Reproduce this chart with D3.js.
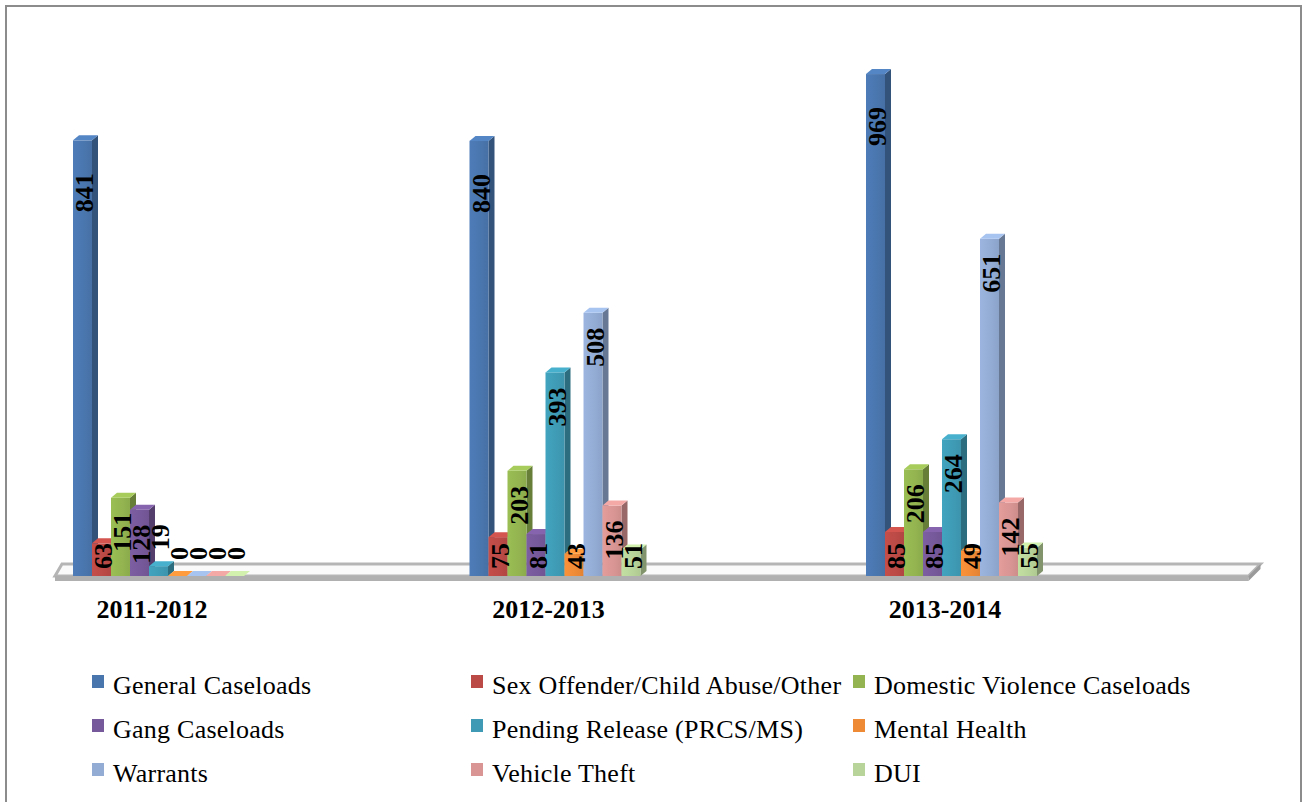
<!DOCTYPE html>
<html>
<head>
<meta charset="utf-8">
<script src="https://cdn.jsdelivr.net/npm/d3@7/dist/d3.min.js"></script>
<style>
  html, body { margin: 0; padding: 0; background: #fff; }
  svg { display: block; font-family: "Liberation Serif", "Times New Roman", serif; }
</style>
</head>
<body>
<svg id="chart" width="1306" height="802"></svg>
<script>
// ── Data ──────────────────────────────────────────────────────────────────────
const years = ["2011-2012", "2012-2013", "2013-2014"];
const seriesNames = [
  "General Caseloads", "Sex Offender/Child Abuse/Other", "Domestic Violence Caseloads",
  "Gang Caseloads", "Pending Release (PRCS/MS)", "Mental Health",
  "Warrants", "Vehicle Theft", "DUI"
];
const general     = [841, 840, 969];
const sexOffender = [63, 75, 85];
const domestic    = [151, 203, 206];
const gang        = [128, 81, 85];
const pending     = [19, 393, 264];
const mental      = [0, 43, 49];
const warrants    = [0, 508, 651];
const vehicle     = [0, 136, 142];
const dui         = [0, 51, 55];
const colors = ["#4A76AE", "#BB4A46", "#93B450", "#76599A", "#3F9BB5",
                "#EE8A36", "#93ACD4", "#D89593", "#B9D49A"];

const values = [general, sexOffender, domestic, gang, pending, mental, warrants, vehicle, dui];

// ── Layout ────────────────────────────────────────────────────────────────────
const svg = d3.select("#chart");
const DX = 6, DY = 5;           // 3D depth offset

svg.append("rect")
  .attr("x", 6).attr("y", 6).attr("width", 1295).attr("height", 800)
  .attr("fill", "#fff").attr("stroke", "#8c8c8c").attr("stroke-width", 2);

const x = d3.scaleBand().domain(years).range([73, 73 + 396.5 * 3]).padding(0);
const xs = d3.scaleBand().domain(seriesNames).range([0, 171]).padding(0);
const y = d3.scaleLinear().domain([0, 1000]).range([576, 58]);
const y0 = y(0);

// ── Floor ─────────────────────────────────────────────────────────────────────
const fl = x.range()[0] - 18, fr = x.range()[1] - 14;
const floor = svg.append("g");
floor.append("path")
  .attr("d", `M${fl},${y0} L${fl + 7},${y0 - 12} L${fr + 12},${y0 - 12} L${fr},${y0} Z`)
  .attr("fill", "#fafafa").attr("stroke", "#b5b5b5").attr("stroke-width", 3);
floor.append("path")
  .attr("d", `M${fl},${y0} L${fr},${y0} L${fr},${y0 + 5} L${fl},${y0 + 5} Z`)
  .attr("fill", "#b0b0b0");
floor.append("path")
  .attr("d", `M${fr},${y0} L${fr + 12},${y0 - 12} L${fr + 12},${y0 - 7} L${fr},${y0 + 5} Z`)
  .attr("fill", "#9a9a9a");

// ── Bars ──────────────────────────────────────────────────────────────────────
const defs = svg.append("defs");
colors.forEach((c, i) => {
  const g = defs.append("linearGradient").attr("id", `grad-${i}`)
    .attr("x1", "0").attr("x2", "1").attr("y1", "0").attr("y2", "0");
  g.append("stop").attr("offset", "0%").attr("stop-color", d3.color(c).brighter(0.15));
  g.append("stop").attr("offset", "60%").attr("stop-color", c);
  g.append("stop").attr("offset", "100%").attr("stop-color", d3.color(c).darker(0.15));
});

const bars = svg.append("g");
const bw = xs.bandwidth();
const labels = [];
years.forEach((yr, yi) => {
  seriesNames.forEach((s, si) => {
    const v = values[si][yi];
    const bx = x(yr) + xs(s), by = y(v);
    const c = colors[si];
    const g = bars.append("g");
    // side face
    g.append("path")
      .attr("d", `M${bx + bw},${by} L${bx + bw + DX},${by - DY} L${bx + bw + DX},${y0 - DY} L${bx + bw},${y0} Z`)
      .attr("fill", d3.color(c).darker(1));
    // front face
    g.append("rect")
      .attr("x", bx).attr("y", by).attr("width", bw).attr("height", y0 - by)
      .attr("fill", `url(#grad-${si})`);
    // top face
    g.append("path")
      .attr("d", `M${bx},${by} L${bx + DX},${by - DY} L${bx + bw + DX},${by - DY} L${bx + bw},${by} Z`)
      .attr("fill", d3.color(c).brighter(0.35));
    labels.push({ v, si, cx: bx + bw / 2 + 2, top: by });
  });
});

// ── Value labels ─────────────────────────────────────────────────────────────
// the tallest series had its labels pushed further down inside the bar
const insetFor = si => si === 0 ? 33 : 15;
const lg = svg.append("g");
labels.forEach(l => {
  const t = lg.append("text")
    .attr("font-size", 26).attr("font-weight", "bold").attr("fill", "#000")
    .attr("dominant-baseline", "central")
    .text(l.v);
  const len = t.node().getComputedTextLength();
  const h = y0 - l.top;
  let anchor, pos;
  if (h < len * 0.7) {
    anchor = "start"; pos = l.top - 16;
  } else {
    anchor = "end"; pos = Math.min(l.top + insetFor(l.si), y0 - 7 - len);
  }
  t.attr("text-anchor", anchor)
   .attr("transform", `translate(${l.cx},${pos}) rotate(-90)`);
});

// ── Category labels ──────────────────────────────────────────────────────────
svg.append("g").selectAll("text").data(years).join("text")
  .attr("x", d => x(d) + 79).attr("y", 618)
  .attr("text-anchor", "middle")
  .attr("font-size", 26).attr("font-weight", "bold")
  .text(d => d);

// ── Legend ───────────────────────────────────────────────────────────────────
const legCols = [92, 471, 853], legRows = [685, 729, 773];
const leg = svg.append("g");
seriesNames.forEach((s, i) => {
  const lx = legCols[i % 3], ly = legRows[Math.floor(i / 3)];
  leg.append("rect")
    .attr("x", lx).attr("y", ly - 10).attr("width", 12).attr("height", 13)
    .attr("fill", colors[i]);
  leg.append("text")
    .attr("x", lx + 21).attr("y", ly + 9)
    .attr("font-size", 26).attr("letter-spacing", 0.25).attr("fill", "#000")
    .text(s);
});
</script>
</body>
</html>
